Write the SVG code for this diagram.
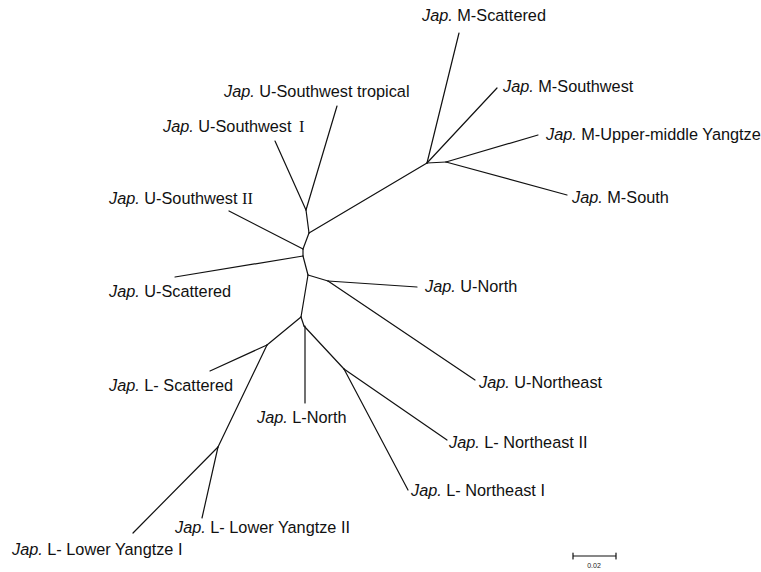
<svg xmlns="http://www.w3.org/2000/svg" width="761" height="572" viewBox="0 0 761 572">
<style>
.lbl{font-family:"Liberation Sans",Arial,sans-serif;font-size:16.3px;fill:#111}
.it{font-style:italic}
.rn{font-family:"Liberation Serif","Times New Roman",serif}
.edge{stroke:#111;stroke-width:1.2;fill:none;stroke-linecap:round}
.sc{font-family:"Liberation Sans",Arial,sans-serif;font-size:7px;fill:#222}
</style>
<rect width="761" height="572" fill="#fff"/>
<g id="connectors" class="edge">
<line x1="306" y1="210" x2="337" y2="106"/>
<line x1="306" y1="210" x2="275" y2="141"/>
<line x1="306" y1="210" x2="309" y2="233"/>
<line x1="309" y1="233" x2="427" y2="163"/>
<line x1="309" y1="233" x2="303" y2="249"/>
<line x1="303" y1="249" x2="229" y2="211"/>
<line x1="303" y1="249" x2="303" y2="256"/>
<line x1="303" y1="256" x2="175" y2="277"/>
<line x1="303" y1="256" x2="308" y2="275"/>
<line x1="308" y1="275" x2="328" y2="281"/>
<line x1="328" y1="281" x2="417" y2="287"/>
<line x1="328" y1="281" x2="475" y2="380"/>
<line x1="308" y1="275" x2="301" y2="317"/>
<line x1="301" y1="317" x2="267" y2="345"/>
<line x1="267" y1="345" x2="210" y2="371"/>
<line x1="267" y1="345" x2="218" y2="447"/>
<line x1="218" y1="447" x2="202" y2="518"/>
<line x1="218" y1="447" x2="133" y2="533"/>
<line x1="301" y1="317" x2="304" y2="326"/>
<line x1="305" y1="326" x2="305" y2="403"/>
<line x1="304" y1="326" x2="344" y2="369"/>
<line x1="344" y1="369" x2="447" y2="440"/>
<line x1="344" y1="369" x2="408" y2="490"/>
<line x1="427" y1="163" x2="459" y2="33"/>
<line x1="427" y1="163" x2="497" y2="88"/>
<line x1="427" y1="163" x2="446" y2="162"/>
<line x1="446" y1="162" x2="538" y2="135"/>
<line x1="446" y1="162" x2="567" y2="195"/>
</g>
<g id="m-scattered"><text class="lbl" x="422" y="21"><tspan class="it">Jap.</tspan> M-Scattered</text></g>
<g id="m-southwest"><text class="lbl" x="503" y="92"><tspan class="it">Jap.</tspan> M-Southwest</text></g>
<g id="m-upper-middle-yangtze"><text class="lbl" x="546" y="140"><tspan class="it">Jap.</tspan> M-Upper-middle Yangtze</text></g>
<g id="m-south"><text class="lbl" x="572" y="203"><tspan class="it">Jap.</tspan> M-South</text></g>
<g id="u-southwest-tropical"><text class="lbl" x="224" y="97"><tspan class="it">Jap.</tspan> U-Southwest tropical</text></g>
<g id="u-southwest-1"><text class="lbl" x="163" y="132"><tspan class="it">Jap.</tspan> U-Southwest <tspan class="rn" dx="3">I</tspan></text></g>
<g id="u-southwest-2"><text class="lbl" x="109" y="204"><tspan class="it">Jap.</tspan> U-Southwest <tspan class="rn">II</tspan></text></g>
<g id="u-scattered"><text class="lbl" x="109" y="297"><tspan class="it">Jap.</tspan> U-Scattered</text></g>
<g id="u-north"><text class="lbl" x="425" y="292"><tspan class="it">Jap.</tspan> U-North</text></g>
<g id="u-northeast"><text class="lbl" x="479" y="388"><tspan class="it">Jap.</tspan> U-Northeast</text></g>
<g id="l-north"><text class="lbl" x="257" y="423"><tspan class="it">Jap.</tspan> L-North</text></g>
<g id="l-northeast-2"><text class="lbl" x="449" y="448"><tspan class="it">Jap.</tspan> L- Northeast II</text></g>
<g id="l-northeast-1"><text class="lbl" x="411" y="496"><tspan class="it">Jap.</tspan> L- Northeast I</text></g>
<g id="l-scattered"><text class="lbl" x="109" y="391"><tspan class="it">Jap.</tspan> L- Scattered</text></g>
<g id="l-lower-yangtze-2"><text class="lbl" x="175" y="533"><tspan class="it">Jap.</tspan> L- Lower Yangtze II</text></g>
<g id="l-lower-yangtze-1"><text class="lbl" x="12" y="555"><tspan class="it">Jap.</tspan> L- Lower Yangtze I</text></g>
<g id="scale-bar">
<path class="edge" d="M573,556 H616 M573,553 V559 M616,553 V559"/>
<text class="sc" x="594" y="568" text-anchor="middle">0.02</text>
</g>
</svg>
